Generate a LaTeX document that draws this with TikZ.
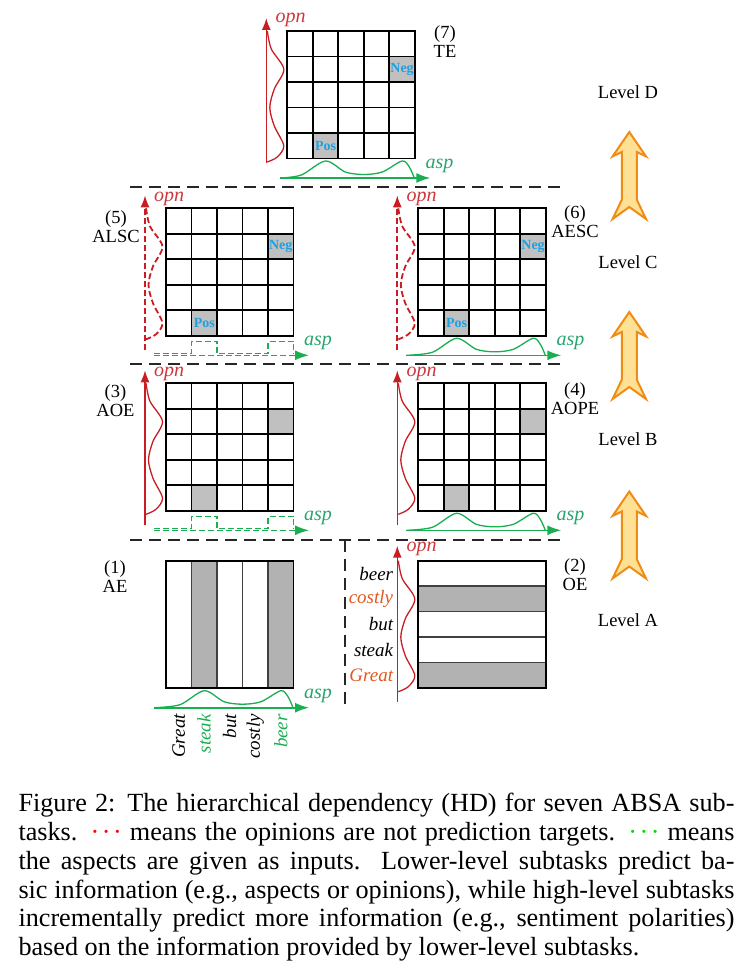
\documentclass[tikz,border=0pt]{standalone}
\usepackage{fontspec}
\setmainfont{Liberation Serif}
\usetikzlibrary{arrows.meta}
\definecolor{opnred}{RGB}{200,30,35}
\definecolor{opnlabc}{RGB}{205,55,60}
\definecolor{aspgreen}{RGB}{25,175,80}
\definecolor{asplabc}{RGB}{40,165,110}
\definecolor{polblue}{RGB}{30,160,225}
\definecolor{cellgray}{RGB}{192,192,192}
\definecolor{hatchgray}{RGB}{178,178,178}
\definecolor{wordred}{RGB}{226,88,34}
\definecolor{arrowfill}{RGB}{255,225,150}
\definecolor{arrowline}{RGB}{240,140,20}
\definecolor{dotgreen}{RGB}{0,220,0}

\newcommand\cellgrid[2]{%
  \fill[cellgray] (#1+102,#2+25.5) rectangle ++(25.5,25.5);
  \fill[cellgray] (#1+25.5,#2+102) rectangle ++(25.5,25.5);
  \foreach \k in {0,...,5}{
    \draw[gridline] (#1+\k*25.5,#2) -- (#1+\k*25.5,#2+127.5);
    \draw[gridline] (#1,#2+\k*25.5) -- (#1+127.5,#2+\k*25.5);
  }%
}
\newcommand\opnwave[3]{%
  \draw[opncurve,#3] plot[smooth] coordinates {(#1+1,#2) (#1+5,#2+18) (#1+17.5,#2+38.25) (#1+8,#2+58) (#1+3.5,#2+76.5) (#1+8,#2+95) (#1+17.5,#2+114.75) (#1+11,#2+126) (#1+1,#2+131)};%
}
\newcommand\aspwave[3]{%
  \draw[aspcurve] plot[smooth] coordinates {(#3,#2) (#1+14,#2-3) (#1+38.25,#2-17) (#1+58,#2-6) (#1+76.5,#2-3.5) (#1+95,#2-6) (#1+114.75,#2-17) (#1+122,#2-11) (#1+127,#2)};%
}
\newcommand\aspboxes[2]{%
  \draw[aspcurve,dashgreen] (#1-12,#2-1.5) -- (#1+25.5,#2-1.5) -- (#1+25.5,#2-14) -- (#1+51,#2-14) -- (#1+51,#2-1.5) -- (#1+102,#2-1.5) -- (#1+102,#2-14) -- (#1+127.5,#2-14) -- (#1+127.5,#2-1.5);%
}
\newcommand\levelarrow[2]{%
  \draw[lvarrow] (#1,#2) -- (#1+16.7,#2+24.4) -- (#1+7.5,#2+20) -- (#1+7.5,#2+67.7) -- (#1+16.7,#2+87) -- (#1,#2+75) -- (#1-16.7,#2+87) -- (#1-7.5,#2+67.7) -- (#1-7.5,#2+20) -- (#1-16.7,#2+24.4) -- cycle;%
}

\tikzset{
  gridline/.style={black, line width=1.8pt, line cap=rect},
  innerline/.style={black!75, line width=1.5pt},
  opnax/.style={opnred, line width=1.6pt, -{Latex[length=12pt,width=9pt]}},
  aspax/.style={aspgreen, line width=1.6pt, -{Latex[length=14pt,width=10pt]}},
  dashred/.style={dash pattern=on 6pt off 3pt, line width=1.8pt},
  dashgreen/.style={dash pattern=on 6pt off 3pt},
  opncurve/.style={opnred, line width=1.3pt},
  aspcurve/.style={aspgreen, line width=1.3pt},
  levelsep/.style={black!85, line width=1.8pt, dash pattern=on 12pt off 7pt},
  lvarrow/.style={draw=arrowline, fill=arrowfill, line width=2pt, line join=miter},
  tasklabel/.style={font=\fontsize{18.5}{19}\selectfont, align=center, inner sep=0pt},
  leveltext/.style={font=\fontsize{18.5}{19}\selectfont, inner sep=0pt},
  opntext/.style={text=opnlabc, font=\itshape\fontsize{20}{20}\selectfont, anchor=west, inner sep=0pt},
  asptext/.style={text=asplabc, font=\itshape\fontsize{20}{20}\selectfont, anchor=west, inner sep=0pt},
  poltext/.style={text=polblue, font=\bfseries\fontsize{14}{14}\selectfont, inner sep=0pt},
  wordtext/.style={font=\itshape\fontsize{19}{19}\selectfont, inner sep=0pt},
  captext/.style={font=\fontsize{26.2}{28.8}\selectfont, anchor=base west, inner sep=0pt},
}

\begin{document}
\begin{tikzpicture}[x=1pt,y=-1pt]
\useasboundingbox (0,0) rectangle (746,966);

% ---------- separators ----------
\coordinate (s1a) at (130,187.3); \coordinate (s1b) at (562,187.3);
\coordinate (s2a) at (130,364.3); \coordinate (s2b) at (562,364.3);
\coordinate (s3a) at (130,540);   \coordinate (s3b) at (562,540);
\coordinate (vsa) at (345,540);   \coordinate (vsb) at (345,705);
\draw[levelsep] (s1a) -- (s1b);
\draw[levelsep] (s2a) -- (s2b);
\draw[levelsep] (s3a) -- (s3b);
\draw[levelsep] (vsa) -- (vsb);

% ---------- level arrows and labels ----------
\levelarrow{629.3}{132}
\levelarrow{629.3}{312}
\levelarrow{629.3}{491.5}
\node[leveltext] (levD) at (628,92) {Level D};
\node[leveltext] (levC) at (628,262) {Level C};
\node[leveltext] (levB) at (628,439) {Level B};
\node[leveltext] (levA) at (628,620) {Level A};

% ---------- (7) TE ----------
\cellgrid{287.3}{31}
\node[poltext] (te-neg) at (402.05,69.25) {Neg};
\node[poltext] (te-pos) at (325.55,145.75) {Pos};
\opnwave{266.3}{31}{}
\coordinate (te-ob) at (266.3,163); \coordinate (te-ot) at (266.3,18);
\draw[opnax] (te-ob) -- (te-ot);
\node[opntext] (te-opn) at (275.3,20) {opn};
\aspwave{287.3}{178}{280.3}
\coordinate (te-as) at (280.3,178); \coordinate (te-at) at (430.3,178);
\draw[aspax] (te-as) -- (te-at);
\node[asptext] (te-asp) at (425.3,166) {asp};
\node[tasklabel] (te-lab) at (445,41.5) {(7)\\TE};

% ---------- (5) ALSC ----------
\cellgrid{166}{208.3}
\node[poltext] (alsc-neg) at (280.75,246.55) {Neg};
\node[poltext] (alsc-pos) at (204.25,323.05) {Pos};
\opnwave{145}{208.3}{dashred}
\coordinate (alsc-ob) at (145,350.3); \coordinate (alsc-ot) at (145,195.3);
\draw[opnax,dashred] (alsc-ob) -- (alsc-ot);
\node[opntext] (alsc-opn) at (154,198.8) {opn};
\aspboxes{166}{355.3}
\coordinate (alsc-as) at (154,355.3); \coordinate (alsc-at) at (309,355.3);
\draw[aspax,dashgreen] (alsc-as) -- (alsc-at);
\node[asptext] (alsc-asp) at (304,343.3) {asp};
\node[tasklabel] (alsc-lab) at (116,226.5) {(5)\\ALSC};

% ---------- (6) AESC ----------
\cellgrid{418.3}{208.3}
\node[poltext] (aesc-neg) at (533.05,246.55) {Neg};
\node[poltext] (aesc-pos) at (456.55,323.05) {Pos};
\opnwave{397.3}{208.3}{dashred}
\coordinate (aesc-ob) at (397.3,350.3); \coordinate (aesc-ot) at (397.3,195.3);
\draw[opnax,dashred] (aesc-ob) -- (aesc-ot);
\node[opntext] (aesc-opn) at (406.3,198.8) {opn};
\aspwave{418.3}{355.3}{406.3}
\coordinate (aesc-as) at (406.3,355.3); \coordinate (aesc-at) at (561.3,355.3);
\draw[aspax] (aesc-as) -- (aesc-at);
\node[asptext] (aesc-asp) at (556.3,343.3) {asp};
\node[tasklabel] (aesc-lab) at (575,221.5) {(6)\\AESC};

% ---------- (3) AOE ----------
\cellgrid{166}{383.3}
\opnwave{145}{383.3}{}
\coordinate (aoe-ob) at (145,525.3); \coordinate (aoe-ot) at (145,370.3);
\draw[opnax] (aoe-ob) -- (aoe-ot);
\node[opntext] (aoe-opn) at (154,373.8) {opn};
\aspboxes{166}{530.3}
\coordinate (aoe-as) at (154,530.3); \coordinate (aoe-at) at (309,530.3);
\draw[aspax,dashgreen] (aoe-as) -- (aoe-at);
\node[asptext] (aoe-asp) at (304,518.3) {asp};
\node[tasklabel] (aoe-lab) at (115.5,400.5) {(3)\\AOE};

% ---------- (4) AOPE ----------
\cellgrid{418.3}{383.3}
\opnwave{397.3}{383.3}{}
\coordinate (aope-ob) at (397.3,525.3); \coordinate (aope-ot) at (397.3,370.3);
\draw[opnax] (aope-ob) -- (aope-ot);
\node[opntext] (aope-opn) at (406.3,373.8) {opn};
\aspwave{418.3}{530.3}{406.3}
\coordinate (aope-as) at (406.3,530.3); \coordinate (aope-at) at (561.3,530.3);
\draw[aspax] (aope-as) -- (aope-at);
\node[asptext] (aope-asp) at (556.3,518.3) {asp};
\node[tasklabel] (aope-lab) at (575,399) {(4)\\AOPE};

% ---------- (1) AE ----------
\fill[hatchgray] (191.5,560.7) rectangle (217,688.2);
\fill[hatchgray] (268,560.7) rectangle (293.5,688.2);
\foreach \k in {1,...,4}{\draw[innerline] (166+\k*25.5,560.7) -- (166+\k*25.5,688.2);}
\draw[gridline] (166,560.7) rectangle (293.5,688.2);
\aspwave{166}{707.7}{154}
\coordinate (ae-as) at (154,707.7); \coordinate (ae-at) at (309,707.7);
\draw[aspax] (ae-as) -- (ae-at);
\node[asptext] (ae-asp) at (304,695.7) {asp};
\node[tasklabel] (ae-lab) at (115,576.5) {(1)\\AE};
\node[wordtext, rotate=90, anchor=east] (w-great) at (178.75,714) {Great};
\node[wordtext, rotate=90, anchor=east, text=aspgreen] (w-steak) at (204.25,714) {steak};
\node[wordtext, rotate=90, anchor=east] (w-but) at (229.75,714) {but};
\node[wordtext, rotate=90, anchor=east] (w-costly) at (255.25,714) {costly};
\node[wordtext, rotate=90, anchor=east, text=aspgreen] (w-beer) at (280.75,714) {beer};

% ---------- (2) OE ----------
\fill[hatchgray] (418.3,586.2) rectangle (546,611.7);
\fill[hatchgray] (418.3,662.7) rectangle (546,688.2);
\foreach \k in {1,...,4}{\draw[innerline] (418.3,560.7+\k*25.5) -- (546,560.7+\k*25.5);}
\draw[gridline] (418.3,560.7) rectangle (546,688.2);
\opnwave{397.3}{560.7}{}
\coordinate (oe-ob) at (397.3,701.7); \coordinate (oe-ot) at (397.3,545.7);
\draw[opnax] (oe-ob) -- (oe-ot);
\node[opntext] (oe-opn) at (406.3,549.2) {opn};
\node[tasklabel] (oe-lab) at (575,575) {(2)\\OE};
\node[wordtext, anchor=east] (o-beer) at (393.3,573.5) {beer};
\node[wordtext, anchor=east, text=wordred] (o-costly) at (393.3,599) {costly};
\node[wordtext, anchor=east] (o-but) at (393.3,624.5) {but};
\node[wordtext, anchor=east] (o-steak) at (393.3,650) {steak};
\node[wordtext, anchor=east, text=wordred] (o-great) at (393.3,675.5) {Great};

% ---------- caption ----------
\node[captext] (cap1) at (18.3,811.7) {\makebox[716pt][s]{Figure 2: The hierarchical dependency (HD) for seven ABSA sub-}};
\node[captext] (cap2) at (18.3,840.5) {\makebox[716pt][s]{tasks. {\color{red}·\kern2.5pt·\kern2.5pt·} means the opinions are not prediction targets. {\color{dotgreen}·\kern2.5pt·\kern2.5pt·} means}};
\node[captext] (cap3) at (18.3,869.3) {\makebox[716pt][s]{the aspects are given as inputs.\ \ Lower-level subtasks predict ba-}};
\node[captext] (cap4) at (18.3,898.1) {\makebox[716pt][s]{sic information (e.g., aspects or opinions), while high-level subtasks}};
\node[captext] (cap5) at (18.3,926.9) {\makebox[716pt][s]{incrementally predict more information (e.g., sentiment polarities)}};
\node[captext] (cap6) at (18.3,955.7) {based on the information provided by lower-level subtasks.};
\end{tikzpicture}
\end{document}
